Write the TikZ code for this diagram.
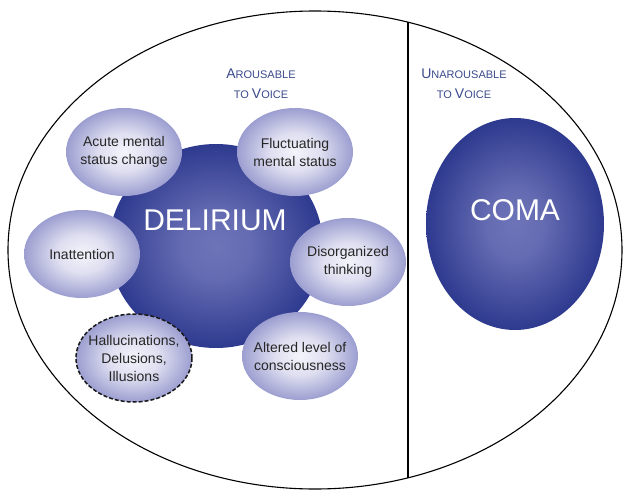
\documentclass[tikz,border=0pt]{standalone}
\usepackage{fontspec}
\setmainfont{Liberation Sans}
\usetikzlibrary{shapes.geometric}
\definecolor{navy}{HTML}{2E3A8F}
\definecolor{navylight}{HTML}{6E74B8}
\definecolor{lav}{HTML}{9C9ED0}
\definecolor{lavlight}{HTML}{F4F4FB}
\definecolor{hdr}{HTML}{3A4A8C}
\definecolor{txt}{HTML}{262626}
\pgfdeclareradialshading{bigball}{\pgfpointorigin}{color(0bp)=(navylight); color(8bp)=(navylight!85!navy); color(25bp)=(navy); color(50bp)=(navy)}
\pgfdeclareradialshading{smallball}{\pgfpointorigin}{color(0bp)=(lavlight); color(11bp)=(lavlight!75!lav); color(25bp)=(lav); color(50bp)=(lav)}
\tikzset{
  big/.style={ellipse, shading=bigball, inner sep=0pt, text=white, font=\fontsize{30}{32}\selectfont},
  sym/.style={ellipse, shading=smallball, inner sep=-14pt, minimum width=116pt, minimum height=88pt, align=center, text=txt, font=\fontsize{14}{18}\selectfont},
  header/.style={align=center, text=hdr, font=\fontsize{11}{20}\selectfont},
}
\newcommand{\bigA}[1]{{\fontsize{14}{20}\selectfont #1}}
\begin{document}
\begin{tikzpicture}[x=1pt,y=-1pt]
\useasboundingbox (0,0) rectangle (625,493);
% outer ellipse
\node[draw, ellipse, line width=1.1pt, minimum width=614pt, minimum height=478pt, inner sep=0pt] (outer) at (315,250) {};
% divider
\coordinate (dtop) at (408,{250-239*sqrt(1-(93/307)^2)});
\coordinate (dbot) at (408,{250+239*sqrt(1-(93/307)^2)});
\draw[line width=1.3pt] (dtop) -- (dbot);
% headers
\node[header] (h1) at (261,84) {\bigA{A}ROUSABLE\\TO \bigA{V}OICE};
\node[header] (h2) at (464,84) {\bigA{U}NAROUSABLE\\TO \bigA{V}OICE};
% big circles
\node[big, minimum width=214pt, minimum height=204pt] (del) at (216,246) {};
\node[text=white, font=\fontsize{30}{32}\selectfont] (deltxt) at (215,220) {DELIRIUM};
\node[big, minimum width=178pt, minimum height=212pt] (coma) at (515,224) {};
\node[text=white, font=\fontsize{30}{32}\selectfont] (comatxt) at (515,210) {COMA};
% symptoms
\node[sym] (acute) at (124,152) {Acute mental\\status change};
\node[sym] (fluct) at (295,152) {Fluctuating\\mental status};
\node[sym] (inatt) at (82,254) {Inattention};
\node[sym] (disorg) at (348,262) {Disorganized\\thinking};
\node[sym, draw=black!90, dash pattern=on 4pt off 2pt, line width=1.5pt] (halluc) at (134,358) {Hallucinations,\\Delusions,\\Illusions};
\node[sym] (alter) at (300,356) {Altered level of\\consciousness};
\end{tikzpicture}
\end{document}
